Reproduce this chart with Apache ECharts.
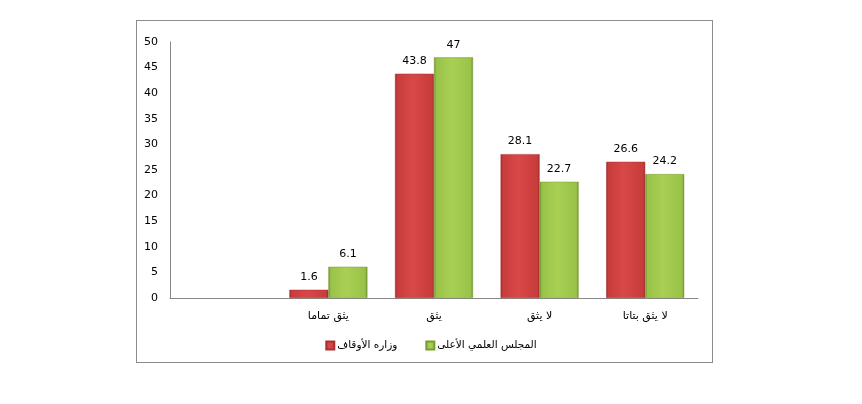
<!DOCTYPE html>
<html><head><meta charset="utf-8">
<script src="https://cdn.jsdelivr.net/npm/echarts@6/dist/echarts.min.js"></script>
<style>html,body{margin:0;padding:0;background:#fff}#c{width:862px;height:404px;position:relative}
#frame{position:absolute;left:136px;top:20px;width:577px;height:343px;border:1px solid #8c8c8c;box-sizing:border-box;pointer-events:none}</style>
</head><body><div id="c"></div><div id="frame"></div>
<script>
const categories = ['', 'يثق تماما', 'يثق', 'لا يثق', 'لا يثق بتاتا'];
const seriesNames = ['وزاره الأوقاف', 'المجلس العلمي الأعلى'];
const awqaf = [null, 1.6, 43.8, 28.1, 26.6];
const council = [null, 6.1, 47, 22.7, 24.2];
const yTicks = {min: 0, max: 50, interval: 5};

const chart = echarts.init(document.getElementById('c'));
function grad(light, mid, dark){
  return new echarts.graphic.LinearGradient(0,0,1,0,[
    {offset:0,color:dark},{offset:0.06,color:mid},{offset:0.45,color:light},{offset:0.94,color:mid},{offset:1,color:dark}]);
}
const font = 'DejaVu Sans';
chart.setOption({
  animation:false,
  grid:{left:170,right:164,top:42,bottom:106},
  legend:{
    data:[seriesNames[0], seriesNames[1]],
    left:'center', top:335, align:'left',
    itemWidth:8,itemHeight:8,itemGap:28,
    textStyle:{fontFamily:font,fontSize:10.5,color:'#000',padding:[0,0,0,-2]},
    icon:'rect'
  },
  xAxis:{type:'category',data:categories,
    axisLine:{lineStyle:{color:'#888'}},axisTick:{show:false},
    axisLabel:{fontFamily:font,fontSize:11,color:'#000',margin:13}},
  yAxis:{type:'value',min:yTicks.min,max:yTicks.max,interval:yTicks.interval,
    splitLine:{show:false},
    axisLine:{show:true,lineStyle:{color:'#888'}},axisTick:{show:false},
    axisLabel:{fontFamily:font,fontSize:11,color:'#000',margin:12}},
  series:[
    {name:seriesNames[0],type:'bar',data:awqaf,barWidth:39,barGap:'0%',
     itemStyle:{color:grad('#d94848','#c83c3c','#9c2a2a'),borderColor:'#a83232',borderWidth:0.5},
     label:{show:true,position:'top',distance:7,fontFamily:font,fontSize:11,color:'#000'}},
    {name:seriesNames[1],type:'bar',data:council,barWidth:39,
     itemStyle:{color:grad('#a9d053','#99c249','#6f8c30'),borderColor:'#7a9a35',borderWidth:0.5},
     label:{show:true,position:'top',distance:7,fontFamily:font,fontSize:11,color:'#000'}}
  ]
});
</script></body></html>
